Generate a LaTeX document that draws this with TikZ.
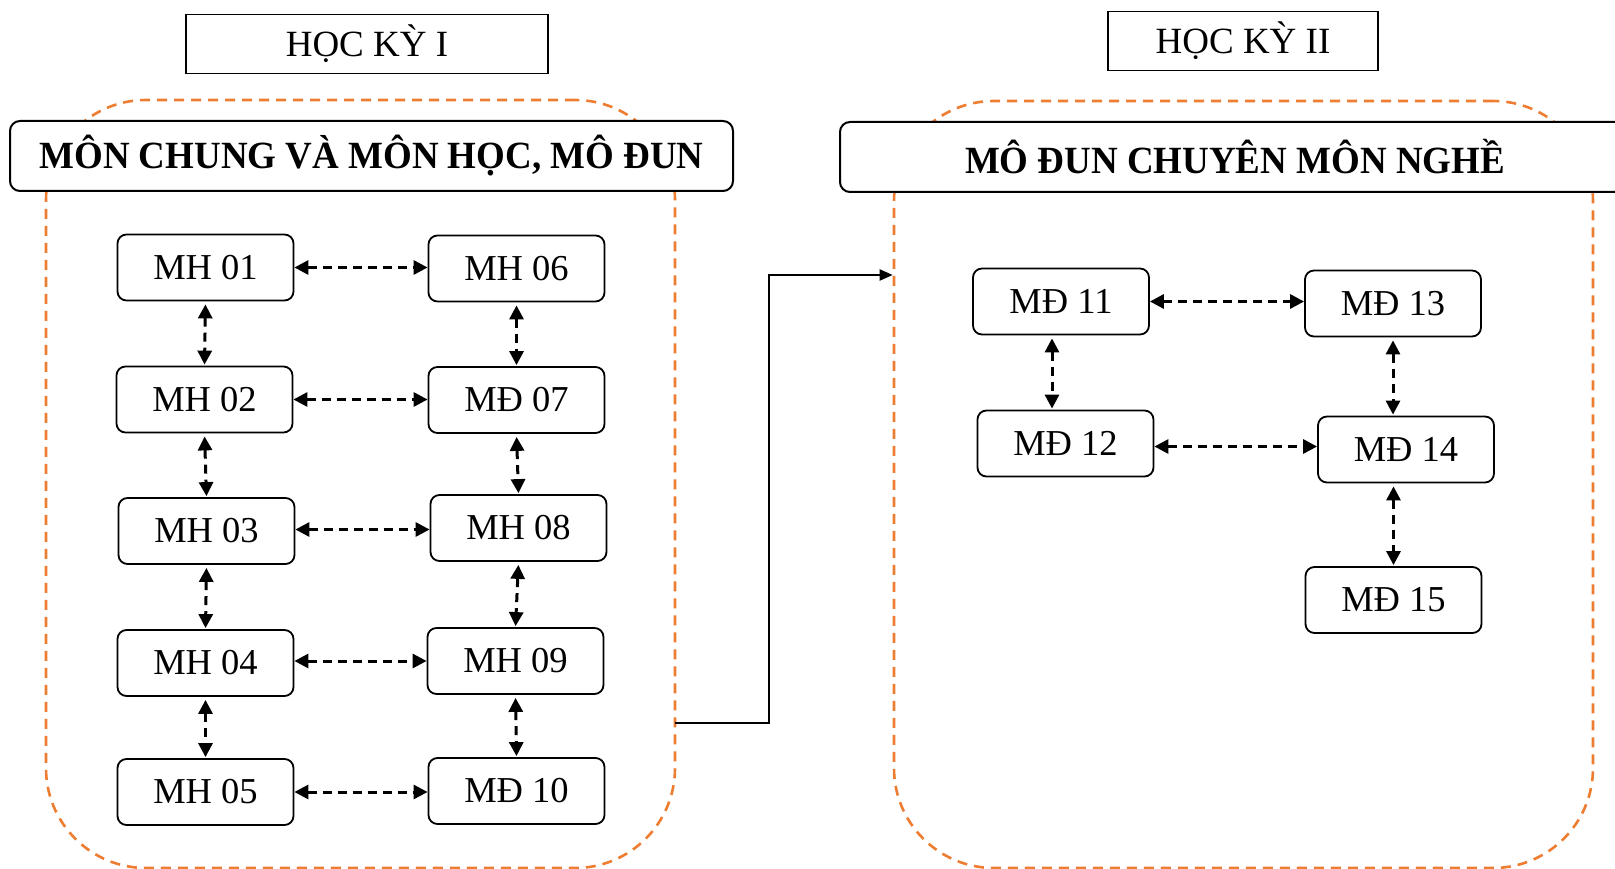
\documentclass[tikz,border=0pt]{standalone}
\usepackage{fontspec}
\setmainfont{Liberation Serif}
\usetikzlibrary{arrows.meta,calc}
\definecolor{orng}{RGB}{237,125,49}
\begin{document}
\begin{tikzpicture}[x=1pt,y=-1pt,
  box/.style={draw,line width=1.8pt,rounded corners=9pt,minimum width=176pt,minimum height=66pt,inner sep=0pt,font=\fontsize{36.5}{40}\selectfont},
  term/.style={draw,line width=1.6pt,inner sep=0pt,font=\fontsize{37}{40}\selectfont},
  head/.style={draw,fill=white,line width=2pt,rounded corners=10pt,minimum height=70pt,inner sep=0pt,font=\fontsize{38.5}{42}\selectfont\bfseries},
  cont/.style={draw=orng,line width=2.6pt,dash pattern=on 10pt off 7pt,rounded corners=100pt,inner sep=0pt},
  darr/.style={line width=3pt,dash pattern=on 9pt off 6pt,{Triangle[length=14pt,width=14pt]}-{Triangle[length=14pt,width=14pt]}},
  conn/.style={line width=2pt,-{Triangle[length=13pt,width=11pt]}}]
\useasboundingbox (0,0) rectangle (1615,869);

% containers
\node[cont,minimum width=629pt,minimum height=768pt] (L) at (360.5,484) {};
\node[cont,minimum width=699pt,minimum height=767pt] (R) at (1243.5,484.5) {};

% term labels
\node[term,minimum width=362pt,minimum height=59pt] (hk1) at (367,44) {HỌC KỲ I};
\node[term,minimum width=270pt,minimum height=59pt] (hk2) at (1243,41) {HỌC KỲ II};

% headers
\node[head,minimum width=723pt] (h1) at (371.5,156) {\scalebox{0.96}[1]{MÔN CHUNG VÀ MÔN HỌC, MÔ ĐUN}};
\node[head,minimum width=790pt] (h2) at (1235,157) {\scalebox{0.96}[1]{MÔ ĐUN CHUYÊN MÔN NGHỀ}};

% left nodes
\node[box] (mh01) at (205.5,267.5) {MH 01};
\node[box] (mh02) at (204.5,399.5) {MH 02};
\node[box] (mh03) at (206.5,531) {MH 03};
\node[box] (mh04) at (205.5,663) {MH 04};
\node[box] (mh05) at (205.5,792) {MH 05};
\node[box] (mh06) at (516.5,268.5) {MH 06};
\node[box] (md07) at (516.5,400) {MĐ 07};
\node[box] (mh08) at (518.5,528) {MH 08};
\node[box] (mh09) at (515.5,661) {MH 09};
\node[box] (md10) at (516.5,791) {MĐ 10};

% right nodes
\node[box] (md11) at (1061,301.5) {MĐ 11};
\node[box] (md13) at (1393,303.5) {MĐ 13};
\node[box] (md12) at (1065.5,443.5) {MĐ 12};
\node[box] (md14) at (1406,449.5) {MĐ 14};
\node[box] (md15) at (1393.5,600) {MĐ 15};

% horizontal arrows
\draw[darr] (mh01.east) -- (mh01.east -| mh06.west);
\draw[darr] (mh02.east) -- (mh02.east -| md07.west);
\draw[darr] ([yshift=1.5pt]mh03.east) -- ([yshift=1.5pt]mh03.east -| mh08.west);
\draw[darr] ([yshift=2pt]mh04.east) -- ([yshift=2pt]mh04.east -| mh09.west);
\draw[darr] (mh05.east) -- (mh05.east -| md10.west);
\draw[darr] (md11.east) -- (md11.east -| md13.west);
\draw[darr] ([yshift=-3pt]md12.east) -- ([yshift=-3pt]md12.east -| md14.west);

% vertical arrows
\draw[darr,shorten <=3pt,shorten >=1pt] (mh01.south) -- (mh02.north);
\draw[darr,shorten <=3pt,shorten >=1pt] (mh02.south) -- (mh03.north);
\draw[darr,shorten <=3pt,shorten >=1pt] (mh03.south) -- (mh04.north);
\draw[darr,shorten <=3pt,shorten >=1pt] (mh04.south) -- (mh05.north);
\draw[darr,shorten <=3pt,shorten >=1pt] (mh06.south) -- (md07.north);
\draw[darr,shorten <=3pt,shorten >=1pt] (md07.south) -- (mh08.north);
\draw[darr,shorten <=3pt,shorten >=1pt] (mh08.south) -- (mh09.north);
\draw[darr,shorten <=3pt,shorten >=1pt] (mh09.south) -- (md10.north);
\draw[darr,shorten <=3pt,shorten >=1pt] ([xshift=-9pt]md11.south) -- ([xshift=-9pt]md11.south |- md12.north);
\draw[darr,shorten <=3pt,shorten >=1pt] (md13.south) -- (md13.south |- md14.north);
\draw[darr,shorten <=3pt,shorten >=1pt] (md15.north |- md14.south) -- (md15.north);

% connector between semesters
\coordinate (c1) at (675,723);
\coordinate (c2) at (769,275);
\draw[conn] (c1) -| (c2) -- (R.west |- c2);
\end{tikzpicture}
\end{document}
